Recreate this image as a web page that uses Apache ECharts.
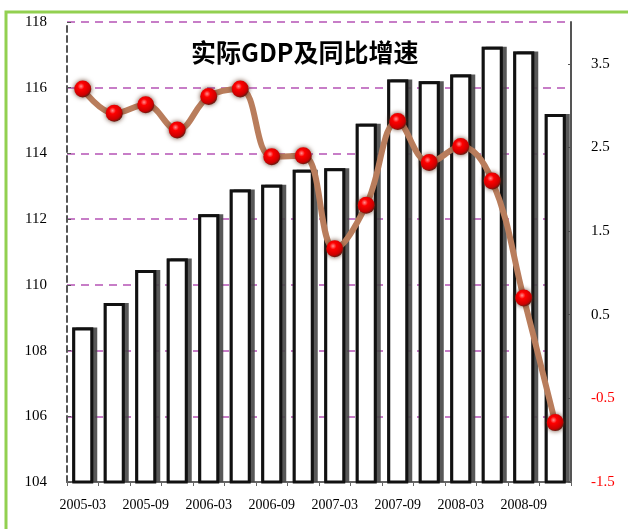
<!DOCTYPE html>
<html><head><meta charset="utf-8">
<script src="https://cdn.jsdelivr.net/npm/echarts@6/dist/echarts.min.js"></script>
<style>html,body{margin:0;padding:0;background:#fff}#c{width:628px;height:529px}</style>
</head><body><div id="c"></div>
<script>
const categories = ['2005-03','2005-06','2005-09','2005-12','2006-03','2006-06','2006-09','2006-12','2007-03','2007-06','2007-09','2007-12','2008-03','2008-06','2008-09','2008-12'];
const gdpValues = [108.7,109.45,110.45,110.8,112.15,112.9,113.05,113.5,113.55,114.9,116.25,116.2,116.4,117.25,117.1,115.2];
const growthValues = [3.2,2.91,3.01,2.71,3.11,3.2,2.39,2.4,1.29,1.81,2.81,2.32,2.51,2.1,0.7,-0.79];
const leftTicks = {min:104, max:118, interval:2};
const rightTicks = {min:-1.5, max:4.0, interval:1};

const chart = echarts.init(document.getElementById('c'));
const serif = '"Liberation Serif","DejaVu Serif",serif';
chart.setOption({
  backgroundColor:'#fff',
  animation:false,
  title:{text:'实际GDP及同比增速', left:186, top:35,
    textStyle:{fontFamily:'"Noto Sans CJK SC"', fontWeight:'bold', fontSize:25, color:'#000'}},
  graphic:[{type:'rect', shape:{x:6,y:12,width:640,height:540},
    style:{fill:'none', stroke:'#92d050', lineWidth:3}, silent:true, z:-10}],
  grid:{left:67, right:57, top:22, bottom:47},
  xAxis:{type:'category', data:categories, boundaryGap:true,
    axisLine:{onZero:false, lineStyle:{color:'#666', width:2}},
    axisTick:{show:true, interval:0, length:4, lineStyle:{color:'#666'}},
    axisLabel:{interval:1, margin:16, fontFamily:serif, fontSize:14, color:'#000'}},
  yAxis:[
    {type:'value', min:leftTicks.min, max:leftTicks.max, interval:leftTicks.interval, position:'left',
      axisLine:{show:true, lineStyle:{color:'#555', width:2, type:[6,4]}},
      axisTick:{show:true, inside:true, length:4, lineStyle:{color:'#555'}},
      axisLabel:{margin:20, fontFamily:serif, fontSize:15, color:'#000'},
      splitLine:{show:true, lineStyle:{color:'#c77dc7', width:2, type:[8,6]}}},
    {type:'value', min:rightTicks.min, max:rightTicks.max, interval:rightTicks.interval, position:'right',
      axisLine:{show:true, lineStyle:{color:'#555', width:2}},
      axisTick:{show:true, inside:true, length:3, lineStyle:{color:'#555'}},
      axisLabel:{margin:20, fontFamily:serif, fontSize:15, showMaxLabel:false,
        formatter:v=>v.toFixed(1), color:v=>(parseFloat(v)<0?'#ff0000':'#000')},
      splitLine:{show:false}}
  ],
  series:[
    {type:'bar', data:gdpValues, yAxisIndex:0, barWidth:21, silent:true,
      itemStyle:{color:'#333',
        shadowColor:'rgba(70,70,70,0.9)', shadowOffsetX:4, shadowOffsetY:0, shadowBlur:0}},
    {type:'bar', data:gdpValues, yAxisIndex:0, barWidth:21, barGap:'-100%',
      itemStyle:{color:'#fff', borderColor:'#111', borderWidth:3}},
    {type:'line', data:growthValues, yAxisIndex:1, smooth:0.4, z:5,
      lineStyle:{color:'#b97d5c', width:6},
      symbol:'circle', symbolSize:17,
      itemStyle:{color:new echarts.graphic.RadialGradient(0.4,0.35,0.65,[
        {offset:0,color:'#ff9090'},{offset:0.3,color:'#ff0000'},{offset:0.8,color:'#cc0000'},{offset:1,color:'#6a1a10'}]),
        shadowColor:'rgba(90,50,30,0.9)', shadowBlur:5}}
  ]
});
</script></body></html>
